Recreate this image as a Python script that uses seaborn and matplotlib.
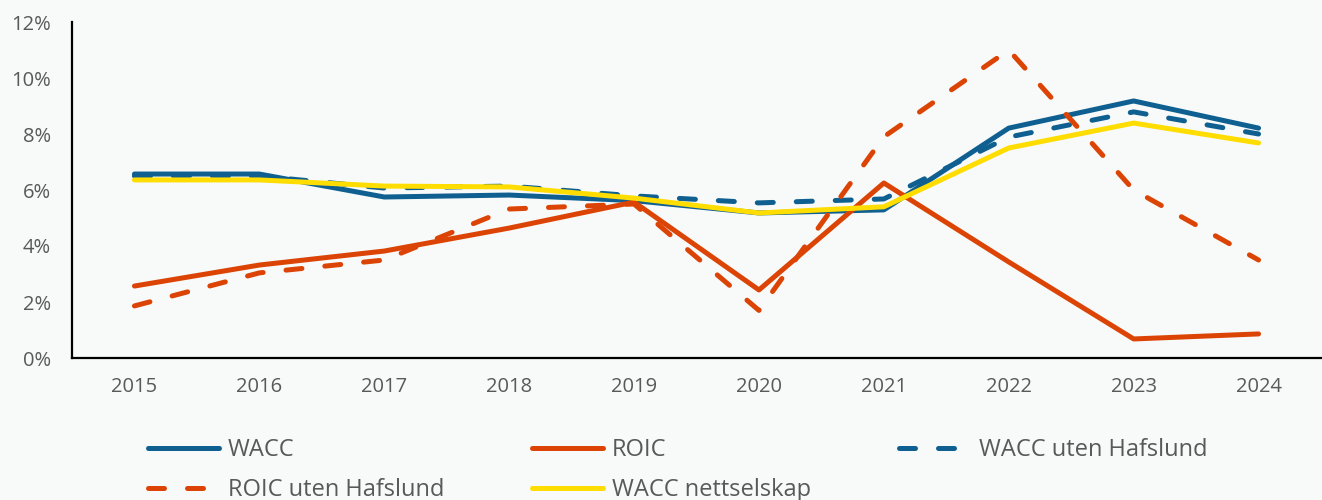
import matplotlib
matplotlib.use("Agg")
import matplotlib.pyplot as plt
import seaborn as sns
import pandas as pd
from matplotlib.ticker import FuncFormatter

years = ["2015", "2016", "2017", "2018", "2019", "2020", "2021", "2022", "2023", "2024"]
wacc = [6.57, 6.57, 5.75, 5.82, 5.62, 5.18, 5.29, 8.21, 9.18, 8.21]
roic = [2.57, 3.32, 3.82, 4.64, 5.57, 2.43, 6.25, 3.43, 0.68, 0.86]
wacc_uten = [6.50, 6.50, 6.07, 6.14, 5.79, 5.54, 5.68, 7.89, 8.79, 8.00]
roic_uten = [1.86, 3.04, 3.50, 5.32, 5.50, 1.70, 7.90, 11.00, 6.00, 3.50]
wacc_nett = [6.36, 6.36, 6.14, 6.11, 5.71, 5.18, 5.40, 7.50, 8.39, 7.68]

series_names = ["WACC", "ROIC", "WACC uten Hafslund", "ROIC uten Hafslund", "WACC nettselskap"]
series_vals = [wacc, roic, wacc_uten, roic_uten, wacc_nett]

BLUE = "#0F6090"
ORANGE = "#DC4405"
YELLOW = "#FFDD00"
colors = [BLUE, ORANGE, BLUE, ORANGE, YELLOW]
dashed = [False, False, True, True, False]

BG = "#F7FAF9"
TXT = "#595959"

sns.set_theme(style="white")
plt.rcParams["font.family"] = ["Open Sans", "DejaVu Sans"]

fig = plt.figure(figsize=(13.22, 5.0), dpi=100, facecolor=BG)
ax = fig.add_axes([72 / 1322, 1 - 358 / 500, 1249 / 1322, 336 / 500])
ax.set_facecolor(BG)

handles = {}
for name, vals, c, d in zip(series_names, series_vals, colors, dashed):
    df = pd.DataFrame({"year": years, "value": vals})
    sns.lineplot(data=df, x="year", y="value", ax=ax, color=c, linewidth=3.6,
                 label=name, sort=False)
    line = ax.lines[-1]
    line.set_solid_capstyle("round")
    line.set_dash_capstyle("round")
    if d:
        line.set_linestyle((0, (3.2, 4.6)))
    handles[name] = line

ax.set_xlim(-0.5, len(years) - 0.5)
ax.set_ylim(0, 12)
ax.set_yticks(range(0, 13, 2))
ax.yaxis.set_major_formatter(FuncFormatter(lambda v, p: f"{int(v)}%"))
ax.set_xlabel("")
ax.set_ylabel("")
ax.tick_params(axis="both", length=0, labelsize=14.5, labelcolor=TXT)
ax.tick_params(axis="y", pad=15)
ax.tick_params(axis="x", pad=14)
for s in ["top", "right"]:
    ax.spines[s].set_visible(False)
for s in ["left", "bottom"]:
    ax.spines[s].set_color("black")
    ax.spines[s].set_linewidth(1.6)

order = ["WACC", "ROIC uten Hafslund", "ROIC", "WACC nettselskap", "WACC uten Hafslund"]
ax.legend([handles[n] for n in order], order, ncol=3, loc="upper left",
          bbox_to_anchor=(136 / 1322, 1 - 426 / 500), bbox_transform=fig.transFigure,
          frameon=False, fontsize=17, labelcolor=TXT, handlelength=3.0,
          handletextpad=0.4, columnspacing=3.7, labelspacing=0.68, borderpad=0)

fig.savefig("out.png", dpi=100, facecolor=BG)
